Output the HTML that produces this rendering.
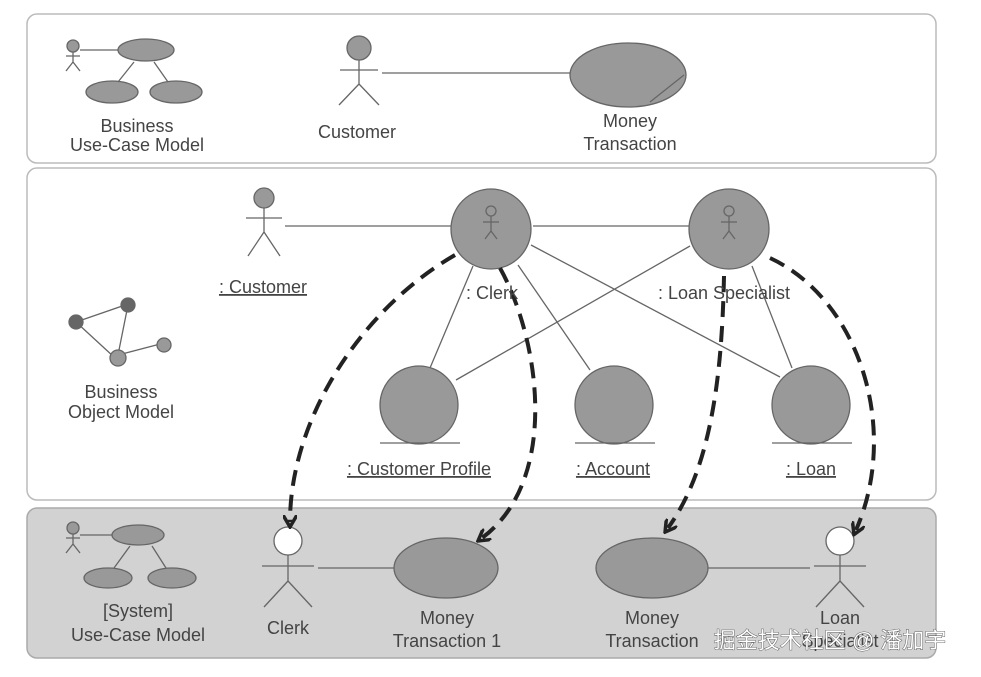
<!DOCTYPE html>
<html><head><meta charset="utf-8"><style>
body{margin:0;background:#fff}
svg{display:block}
text{font-family:"Liberation Sans","Noto Sans CJK SC",sans-serif;font-size:18px;fill:#444;text-anchor:middle}
</style></head><body>
<svg width="981" height="677" viewBox="0 0 981 677" xmlns="http://www.w3.org/2000/svg">
<defs>
<marker id="ar" markerWidth="14" markerHeight="14" refX="7" refY="7" orient="auto" markerUnits="userSpaceOnUse"><path d="M0,0 L12,7 L0,14" fill="none" stroke="#222" stroke-width="3.5"/></marker>
</defs>
<rect x="27" y="14" width="909" height="149" rx="10" fill="#fff" stroke="#bbb" stroke-width="1.5"/>
<rect x="27" y="168" width="909" height="332" rx="10" fill="#fff" stroke="#bbb" stroke-width="1.5"/>
<rect x="27" y="508" width="909" height="150" rx="10" fill="#d2d2d2" stroke="#aaa" stroke-width="1.5"/>

<g stroke="#666" stroke-width="1.3" fill="none">
<circle cx="73" cy="46" r="6" fill="#999"/><path d="M73 52v10M66 56h14M73 62l-7 9M73 62l7 9"/>
<line x1="80" y1="50" x2="118" y2="50"/>
<ellipse cx="146" cy="50" rx="28" ry="11" fill="#999"/>
<ellipse cx="112" cy="92" rx="26" ry="11" fill="#999"/>
<ellipse cx="176" cy="92" rx="26" ry="11" fill="#999"/>
<path d="M118 82l16-20M168 82l-14-20"/>
<circle cx="359" cy="48" r="12" fill="#999"/><path d="M359 60v24M340 70h38M359 84l-20 21M359 84l20 21"/>
<line x1="382" y1="73" x2="570" y2="73"/>
<ellipse cx="628" cy="75" rx="58" ry="32" fill="#999"/>
<line x1="650" y1="102" x2="684" y2="75"/>
<path d="M76 322l52-18M128 305l-10 50M76 322l38 35M118 355l46-12"/>
<circle cx="76" cy="322" r="7" fill="#666"/><circle cx="128" cy="305" r="7" fill="#666"/>
<circle cx="118" cy="358" r="8" fill="#999"/><circle cx="164" cy="345" r="7" fill="#999"/>
<circle cx="264" cy="198" r="10" fill="#999"/><path d="M264 208v24M246 218h36M264 232l-16 24M264 232l16 24"/>
<line x1="285" y1="226" x2="452" y2="226"/>
<line x1="533" y1="226" x2="690" y2="226"/>
<line x1="473" y1="266" x2="430" y2="368"/>
<line x1="518" y1="265" x2="590" y2="370"/>
<line x1="531" y1="245" x2="780" y2="377"/>
<line x1="690" y1="246" x2="456" y2="380"/>
<line x1="752" y1="266" x2="792" y2="368"/>
<circle cx="491" cy="229" r="40" fill="#999"/>
<circle cx="729" cy="229" r="40" fill="#999"/>
<path d="M491 216v15M483 222h16M491 231l-6 8M491 231l6 8M729 216v15M721 222h16M729 231l-6 8M729 231l6 8"/>
<circle cx="491" cy="211" r="5"/><circle cx="729" cy="211" r="5"/>
<circle cx="419" cy="405" r="39" fill="#999"/>
<circle cx="614" cy="405" r="39" fill="#999"/>
<circle cx="811" cy="405" r="39" fill="#999"/>
<path d="M380 443h80M575 443h80M772 443h80"/>
<circle cx="73" cy="528" r="6" fill="#999"/><path d="M73 534v10M66 538h14M73 544l-7 9M73 544l7 9"/>
<line x1="80" y1="535" x2="112" y2="535"/>
<ellipse cx="138" cy="535" rx="26" ry="10" fill="#999"/>
<ellipse cx="108" cy="578" rx="24" ry="10" fill="#999"/>
<ellipse cx="172" cy="578" rx="24" ry="10" fill="#999"/>
<path d="M114 568l16-22M166 568l-14-22"/>
<circle cx="288" cy="541" r="14" fill="#fff"/><path d="M288 555v26M262 566h52M288 581l-24 26M288 581l24 26"/>
<line x1="318" y1="568" x2="395" y2="568"/>
<ellipse cx="446" cy="568" rx="52" ry="30" fill="#999"/>
<ellipse cx="652" cy="568" rx="56" ry="30" fill="#999"/>
<line x1="708" y1="568" x2="810" y2="568"/>
<circle cx="840" cy="541" r="14" fill="#fff"/><path d="M840 555v26M814 566h52M840 581l-24 26M840 581l24 26"/>
</g>

<g stroke="#222" stroke-width="4" fill="none" stroke-dasharray="16,9" marker-end="url(#ar)">
<path d="M455 255 C360 310,290 420,290 522"/>
<path d="M500 268 C540 340,560 480,482 538"/>
<path d="M724 276 C722 380,710 470,668 528"/>
<path d="M770 258 C860 300,900 430,856 530"/>
</g>

<text x="137" y="132">Business</text><text x="137" y="151">Use-Case Model</text>
<text x="357" y="138">Customer</text>
<text x="630" y="127">Money</text><text x="630" y="150">Transaction</text>
<text x="263" y="293" text-decoration="underline">: Customer</text>
<text x="492" y="299">: Clerk</text>
<text x="724" y="299">: Loan Specialist</text>
<text x="121" y="398">Business</text><text x="121" y="418">Object Model</text>
<text x="419" y="475" text-decoration="underline">: Customer Profile</text>
<text x="613" y="475" text-decoration="underline">: Account</text>
<text x="811" y="475" text-decoration="underline">: Loan</text>
<text x="138" y="617">[System]</text><text x="138" y="641">Use-Case Model</text>
<text x="288" y="634">Clerk</text>
<text x="447" y="624">Money</text><text x="447" y="647">Transaction 1</text>
<text x="652" y="624">Money</text><text x="652" y="647">Transaction</text>
<text x="840" y="624">Loan</text><text x="840" y="647">Specialist</text>
<text x="830" y="648" style="fill:#fff;font-size:22px;stroke:#444;stroke-width:0.8;paint-order:stroke">掘金技术社区 @ 潘加宇</text>
</svg>
</body></html>
